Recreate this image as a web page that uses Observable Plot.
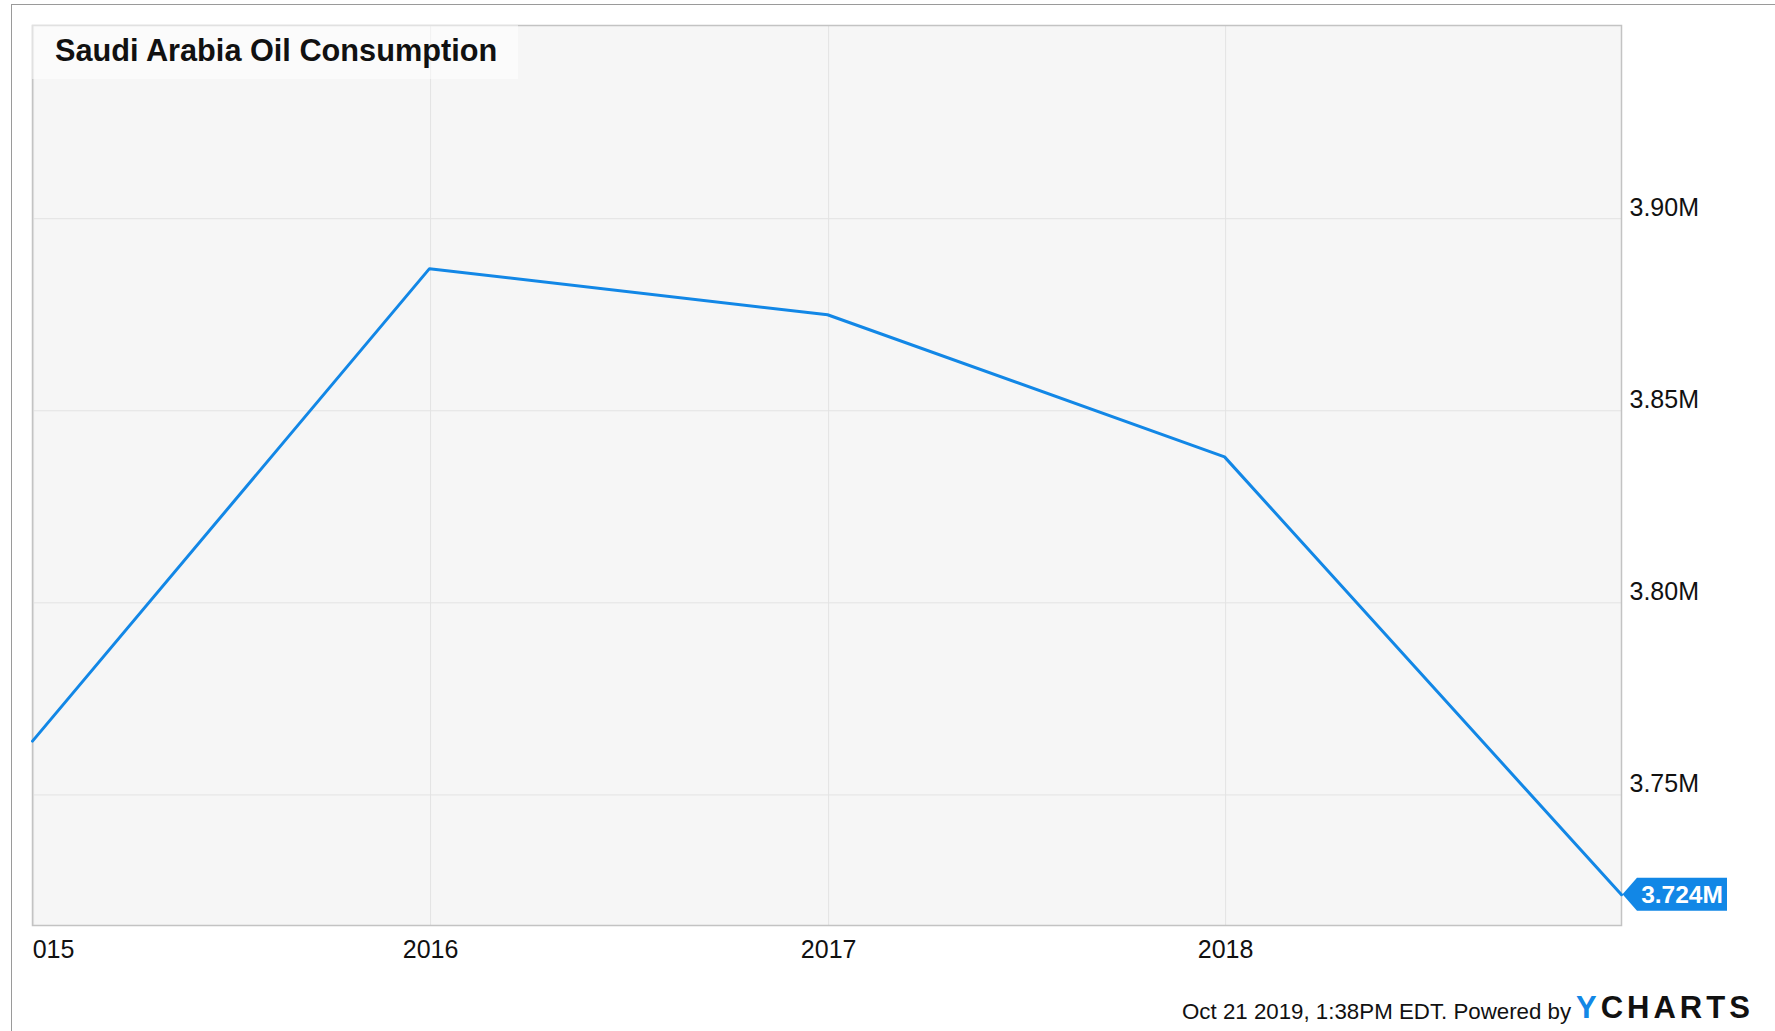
<!DOCTYPE html>
<html>
<head>
<meta charset="utf-8">
<script src="https://cdn.jsdelivr.net/npm/d3@7"></script>
<script src="https://cdn.jsdelivr.net/npm/@observablehq/plot@0.6"></script>
<style>
html, body { margin: 0; padding: 0; background: #fff; width: 1775px; height: 1031px; overflow: hidden;
  font-family: Arial, "Liberation Sans", sans-serif; }
#outer { position: absolute; left: 11px; top: 4px; width: 1850px; height: 1100px;
  border-left: 1.5px solid #9a9a9a; border-top: 1.5px solid #9a9a9a; }
#chart { position: absolute; left: 0; top: 0; }
#title { position: absolute; left: 32px; top: 25px; width: 486px; height: 54px; background: rgba(255,255,255,0.5); }
#title span { position: absolute; left: 23px; top: 11.2px; font-size: 30.7px; line-height: 30.7px; font-weight: bold; color: #111; white-space: nowrap; }
#footer { position: absolute; left: 1182px; top: 1000.5px; font-size: 22.3px; line-height: 22.3px; color: #111; white-space: nowrap; }
#logo { position: absolute; left: 1576px; top: 991.5px; font-size: 31px; line-height: 31px; font-weight: bold; letter-spacing: 4px; color: #111; white-space: nowrap; }
#logo b { color: #1287e6; }
</style>
</head>
<body>
<div id="outer"></div>
<div id="chart"></div>
<div id="title"><span></span></div>
<div id="footer"></div>
<div id="logo"></div>
<script>
// ---- data ----
const titleText = "Saudi Arabia Oil Consumption";
const dates = ["2014-12-31", "2015-12-31", "2016-12-31", "2017-12-31", "2018-12-31"];
const consumption = [3.764, 3.887, 3.875, 3.838, 3.724]; // million barrels per day
const xTickYears = ["2015", "2016", "2017", "2018"];
const yTicks = [3.75, 3.80, 3.85, 3.90];
const yDomain = [3.716, 3.9503];
const lastLabel = "3.724M";
const footerText = "Oct 21 2019, 1:38PM EDT. Powered by";
const logoFirst = "Y";
const logoRest = "CHARTS";

const BLUE = "#1287e6";
const data = dates.map((d, i) => ({date: new Date(d), value: consumption[i]}));
const xTicks = xTickYears.map(y => new Date(y + "-01-01"));
const yearFmt = d => String(d.getUTCFullYear());

const marginLeft = 32;
const plot = Plot.plot({
  width: 1775,
  height: 1031,
  marginLeft, marginRight: 154, marginTop: 25, marginBottom: 106,
  style: {fontFamily: 'Arial, "Liberation Sans", sans-serif', fontSize: "25px", color: "#111", background: "transparent", overflow: "visible"},
  x: {type: "utc", domain: [data[0].date, data[data.length - 1].date]},
  y: {domain: yDomain},
  marks: [
    Plot.frame({fill: "#f6f6f6", stroke: null}),
    Plot.gridX(xTicks, {stroke: "#e3e3e3", strokeOpacity: 1, strokeWidth: 1}),
    Plot.gridY(yTicks, {stroke: "#e3e3e3", strokeOpacity: 1, strokeWidth: 1}),
    Plot.frame({stroke: "#c3c3c3", strokeWidth: 1.5, fill: null}),
    Plot.axisY(yTicks, {anchor: "right", tickSize: 0, tickPadding: 8, label: null,
      tickFormat: d => d.toFixed(2) + "M", lineAnchor: "bottom", dy: -3, fontSize: 25, fill: "#111"}),
    Plot.axisX(xTicks.slice(1), {anchor: "bottom", tickSize: 0, tickPadding: 15, label: null,
      tickFormat: yearFmt, lineAnchor: "top", fontSize: 25, fill: "#111"}),
    Plot.axisX(xTicks.slice(0, 1), {anchor: "bottom", tickSize: 0, tickPadding: 15, label: null,
      tickFormat: yearFmt, lineAnchor: "top", fontSize: 25, fill: "#111", dx: 13}),
    Plot.line(data, {x: "date", y: "value", stroke: BLUE, strokeWidth: 3})
  ]
});
document.getElementById("chart").appendChild(plot);

// end-value tag, positioned through the plot's own scales
const last = data[data.length - 1];
const px = plot.scale("x").apply(last.date);
const py = plot.scale("y").apply(last.value);
const svg = d3.select(plot);
const tip = px + 1.5, bx0 = px + 16, bx1 = px + 106, h = 16.5;
svg.append("path")
  .attr("d", `M${tip},${py} L${bx0},${py - h} L${bx1},${py - h} L${bx1},${py + h} L${bx0},${py + h} Z`)
  .attr("fill", BLUE);
svg.append("text")
  .attr("x", (bx0 + bx1) / 2).attr("y", py).attr("dy", "0.36em")
  .attr("text-anchor", "middle").attr("fill", "#fff")
  .attr("font-size", 24.5).attr("font-weight", "bold")
  .text(lastLabel);

// clip the first x label at the plot's left edge, as in the reference
const defs = svg.append("defs");
plot.querySelectorAll("text").forEach(t => {
  if (t.textContent === xTickYears[0]) {
    const g = t.parentNode;
    const ctm = g.getCTM();
    const ex = ctm ? ctm.e : 0;
    defs.append("clipPath").attr("id", "clipFirst")
      .append("rect").attr("x", marginLeft - ex).attr("y", -2000).attr("width", 4000).attr("height", 6000);
    g.setAttribute("clip-path", "url(#clipFirst)");
  }
});

document.querySelector("#title span").textContent = titleText;
document.getElementById("footer").textContent = footerText;
document.getElementById("logo").innerHTML = `<b>${logoFirst}</b>${logoRest}`;
</script>
</body>
</html>
